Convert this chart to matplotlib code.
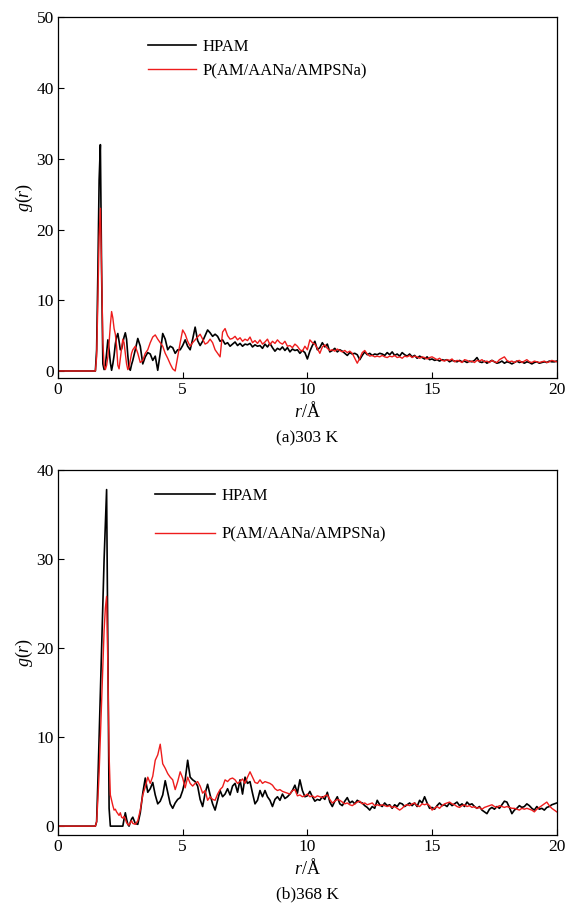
import numpy as np
import matplotlib
matplotlib.use("Agg")
import matplotlib.pyplot as plt

plt.rcParams['font.family'] = ['Liberation Serif', 'DejaVu Serif']
plt.rcParams['mathtext.fontset'] = 'custom'
plt.rcParams['mathtext.rm'] = 'Liberation Serif'
plt.rcParams['mathtext.it'] = 'Liberation Serif:italic'

# r grid: 0, then 1.50-2.95 step 0.05, then 3.0-20.0 step 0.1
r = np.concatenate([[0.0], np.round(np.arange(1.50, 2.96, 0.05), 2), np.round(np.arange(3.0, 20.01, 0.1), 1)])

labels = ["HPAM", "P(AM/AANa/AMPSNa)"]
captions = ["(a)303 K", "(b)368 K"]

# ---------- 303 K ----------
hpam_303 = [0.0,
    0, 3, 14, 27, 32, 14, 1.0, 0.2, 0.8, 2.5,
    4.4, 3.0, 1.2, 0.1, 1.0, 2.2, 3.8, 4.8, 5.3, 4.2,
    3.0, 3.1, 4.0, 4.8, 5.4, 4.5, 2.2, 0.4, 0.1, 0.9,
    1.5, 3.0, 4.6, 3.5, 1.0, 2.0, 2.6, 2.4, 1.5, 2.1,
    0.1, 2.5, 5.3, 4.5, 3.0, 3.5, 3.3, 2.5, 3.0, 3.0,
    3.6, 4.4, 3.5, 3.0, 4.5, 6.2, 4.3, 3.6, 4.2, 5.0,
    5.8, 5.4, 4.9, 5.2, 4.9, 4.2, 4.4, 3.8, 4.0, 3.5,
    3.8, 4.1, 3.6, 3.9, 3.5, 3.8, 3.7, 3.9, 3.4, 3.7,
    3.5, 3.6, 3.2, 3.8, 3.4, 3.9, 3.3, 2.8, 3.2, 3.0,
    3.4, 2.9, 3.3, 2.7, 3.1, 2.9, 3.0, 2.5, 2.9, 2.6,
    1.7, 2.8, 3.6, 4.2, 3.0, 3.3, 4.0, 3.4, 3.8, 2.7,
    2.9, 3.2, 2.7, 3.0, 2.8, 2.5, 2.2, 2.6, 2.4, 2.5,
    2.3, 1.6, 2.2, 2.7, 2.3, 2.5, 2.2, 2.4, 2.3, 2.5,
    2.4, 2.2, 2.6, 2.3, 2.7, 2.2, 2.4, 2.1, 2.6, 2.3,
    2.1, 2.4, 2.0, 2.2, 1.8, 2.1, 1.9, 1.7, 2.0, 1.6,
    1.7, 1.5, 1.6, 1.4, 1.6, 1.5, 1.6, 1.3, 1.5, 1.4,
    1.3, 1.5, 1.3, 1.4, 1.2, 1.4, 1.3, 1.5, 1.9, 1.3,
    1.2, 1.4, 1.1, 1.3, 1.5, 1.3, 1.1, 1.2, 1.4, 1.1,
    1.3, 1.2, 1.0, 1.2, 1.4, 1.2, 1.3, 1.1, 1.3, 1.2,
    1.0, 1.2, 1.3, 1.1, 1.2, 1.3, 1.2, 1.4, 1.3, 1.3,
    1.4]
copoly_303 = [0.0,
    0, 2, 10, 19, 23, 14, 4, 0.8, 0.2, 0.8,
    2.0, 4.0, 6.5, 8.4, 7.5, 6.0, 5.2, 3.5, 0.8, 0.3,
    1.8, 3.2, 4.5, 4.0, 2.5, 1.0, 0.2, 0.5, 1.5, 2.5,
    3.0, 3.5, 2.5, 1.2, 1.5, 2.5, 3.0, 4.0, 4.8, 5.1,
    4.5, 4.0, 3.5, 2.5, 1.8, 1.0, 0.3, 0.0, 2.0, 4.0,
    5.8, 5.2, 4.2, 3.5, 4.0, 4.4, 4.8, 5.2, 4.5, 3.8,
    4.0, 4.5, 4.0, 3.0, 2.5, 2.0, 5.5, 6.0, 5.0, 4.5,
    4.6, 4.9, 4.4, 4.7, 4.2, 4.5, 4.3, 4.8, 4.0, 4.3,
    3.9, 4.4, 3.8, 4.1, 4.5, 3.7, 4.2, 3.9, 4.4, 4.0,
    3.8, 4.2, 3.5, 3.6, 3.3, 3.8, 3.5, 3.0, 2.8, 3.5,
    3.0, 4.4, 4.0, 3.8, 3.2, 2.5, 3.4, 3.7, 3.2, 2.9,
    3.0, 2.8, 3.1, 2.9, 2.7, 2.9, 2.6, 2.8, 2.5, 1.8,
    1.1, 1.8, 2.6, 2.9, 2.4, 2.1, 2.2, 2.0, 2.1, 2.0,
    2.2, 2.0, 1.9, 2.1, 2.0, 2.2, 1.9, 2.0, 1.8, 2.1,
    2.0, 2.2, 1.9, 2.1, 2.0, 1.8, 2.0, 1.9, 1.7, 1.9,
    2.0, 1.8, 1.6, 1.8, 1.5, 1.4, 1.6, 1.5, 1.7, 1.3,
    1.5, 1.4, 1.2, 1.6, 1.5, 1.3, 1.4, 1.2, 1.5, 1.4,
    1.6, 1.3, 1.4, 1.2, 1.5, 1.3, 1.2, 1.6, 1.8, 2.0,
    1.5, 1.3, 1.4, 1.2, 1.4, 1.5, 1.2, 1.4, 1.6, 1.3,
    1.2, 1.4, 1.3, 1.2, 1.3, 1.4, 1.2, 1.3, 1.5, 1.4,
    1.3]

# ---------- 368 K ----------
hpam_368 = [0.0,
    0, 0.5, 5, 10, 15, 20, 25, 30, 34, 37.8,
    20, 2, 0, 0, 0, 0, 0, 0, 0, 0,
    0, 0, 0, 0.8, 1.5, 0.8, 0.2, 0.0, 0.4, 0.8,
    1.0, 0.3, 0.2, 1.5, 3.7, 5.4, 3.8, 4.2, 4.9, 3.5,
    2.5, 2.8, 3.5, 5.1, 3.8, 2.5, 2.0, 2.6, 3.0, 3.2,
    4.0, 5.2, 7.4, 5.5, 5.2, 5.0, 4.5, 3.0, 2.2, 3.7,
    4.7, 3.5, 2.5, 1.8, 2.9, 4.0, 3.3, 3.6, 4.2, 3.5,
    4.5, 4.8, 3.8, 5.2, 3.6, 5.5, 4.8, 5.0, 3.7, 2.5,
    2.9, 4.0, 3.3, 4.0, 3.3, 2.9, 2.2, 3.0, 3.3, 2.9,
    3.6, 3.1, 3.3, 3.6, 4.0, 4.6, 3.7, 5.2, 4.0, 3.3,
    3.4, 3.9, 3.3, 2.8, 3.0, 2.9, 3.3, 3.0, 3.8, 2.7,
    2.2, 2.8, 3.3, 2.5, 2.3, 2.8, 3.2, 2.6, 2.8, 2.5,
    2.9, 2.7, 2.6, 2.3, 2.1, 1.8, 2.2, 2.0, 2.9, 2.4,
    2.2, 2.6, 2.3, 2.4, 2.0, 2.4, 2.2, 2.6, 2.5, 2.2,
    2.4, 2.6, 2.3, 2.6, 2.2, 2.9, 2.6, 3.3, 2.6, 2.0,
    2.1, 1.9, 2.3, 2.6, 2.3, 2.4, 2.2, 2.6, 2.3, 2.5,
    2.7, 2.3, 2.5, 2.2, 2.7, 2.4, 2.5, 2.2, 2.0, 2.2,
    1.8, 1.6, 1.4, 1.9, 2.1, 1.9, 2.2, 2.0, 2.4, 2.8,
    2.7, 2.1, 1.4, 1.8, 2.0, 2.3, 2.1, 2.2, 2.5, 2.3,
    2.0, 1.8, 2.2, 1.9, 2.0, 1.8, 2.1, 2.2, 2.4, 2.5,
    2.6]
copoly_368 = [0.0,
    0, 0.5, 3, 6, 10, 14, 18, 22, 24.5, 25.8,
    18, 8, 3.5, 2.9, 2.3, 1.8, 1.9, 1.6, 1.4, 1.2,
    1.5, 1.0, 0.9, 1.1, 0.8, 0.4, 0.2, 0.1, 0.4, 0.6,
    0.3, 0.2, 0.6, 1.8, 3.5, 4.4, 5.5, 4.8, 5.6, 7.4,
    8.0, 9.2, 7.0, 6.5, 5.9, 5.5, 5.2, 4.1, 5.0, 6.1,
    5.4, 4.3, 5.5, 4.8, 4.5, 4.8, 5.0, 4.5, 3.7, 4.0,
    2.9, 3.3, 3.0, 2.9, 3.6, 4.1, 4.4, 5.2, 5.0, 5.3,
    5.4, 5.2, 4.8, 5.0, 5.3, 4.8, 5.5, 6.1, 5.5, 4.9,
    4.8, 5.2, 4.8, 5.0, 4.9, 4.8, 4.6, 4.2, 4.0, 4.1,
    3.9, 3.8, 3.7, 3.6, 4.0, 4.1, 3.4, 3.5, 3.3, 3.4,
    3.6, 3.3, 3.4, 3.2, 3.4, 3.3, 3.2, 3.4, 3.5, 3.0,
    2.6, 2.8, 3.0, 2.9, 2.7, 2.5, 2.6, 2.4, 2.3, 2.5,
    2.7, 2.8, 2.5, 2.6, 2.4, 2.5, 2.6, 2.3, 2.4, 2.3,
    2.4, 2.3, 2.2, 2.3, 2.1, 2.2, 2.0, 1.8, 2.0, 2.3,
    2.4, 2.3, 2.5, 2.6, 2.3, 2.2, 2.5, 2.4, 2.5, 2.3,
    1.8, 2.0, 2.2, 2.0, 2.3, 2.5, 2.6, 2.7, 2.5, 2.4,
    2.2, 2.1, 2.3, 2.4, 2.2, 2.3, 2.1, 2.2, 2.0, 2.1,
    1.9, 2.1, 2.2, 2.3, 2.4, 2.2, 2.1, 2.3, 2.2, 2.1,
    2.2, 2.1, 2.0, 2.0, 1.9, 1.8, 2.0, 1.9, 2.0, 1.9,
    1.8, 1.6, 1.9, 2.1, 2.3, 2.5, 2.7, 2.3, 2.0, 1.8,
    1.6]

panels = [
    (hpam_303, copoly_303, 50, [0, 10, 20, 30, 40, 50]),
    (hpam_368, copoly_368, 40, [0, 10, 20, 30, 40]),
]

fig = plt.figure(figsize=(5.74, 9.11), dpi=100)
ax_top = fig.add_axes([0.101, 0.585, 0.869, 0.396])
ax_bot = fig.add_axes([0.101, 0.0834, 0.869, 0.4007])
axes = [ax_top, ax_bot]

for i, (ax, (g_h, g_c, ymax, yticks)) in enumerate(zip(axes, panels)):
    ax.plot(r, g_h, color='black', lw=1.2, label=labels[0])
    ax.plot(r, g_c, color='#ee1c1c', lw=1.0, label=labels[1])
    ax.set_xlim(0, 20)
    ax.set_ylim(-1, ymax)
    ax.set_xticks([0, 5, 10, 15, 20])
    ax.set_yticks(yticks)
    ax.tick_params(direction='in', length=4, width=0.8, labelsize=12.5, pad=3)
    for s in ax.spines.values():
        s.set_linewidth(0.9)
    ax.set_ylabel(r'$g$($r$)', fontsize=13, labelpad=1)
    ax.set_xlabel(r'$r$/Å', fontsize=13, labelpad=2)

ax_top.legend(loc='upper left', bbox_to_anchor=(0.18, 0.94), frameon=False, fontsize=12,
              handlelength=2.9, handletextpad=0.4, labelspacing=0.5, borderpad=0, borderaxespad=0)
ax_bot.legend(loc='upper left', bbox_to_anchor=(0.194, 0.95), frameon=False, fontsize=12,
              handlelength=3.6, handletextpad=0.4, labelspacing=1.35, borderpad=0, borderaxespad=0)

fig.text(0.535, 1 - 438 / 911, captions[0], ha='center', va='center', fontsize=12.5)
fig.text(0.535, 1 - 894 / 911, captions[1], ha='center', va='center', fontsize=12.5)

fig.savefig("out.png", dpi=100)
